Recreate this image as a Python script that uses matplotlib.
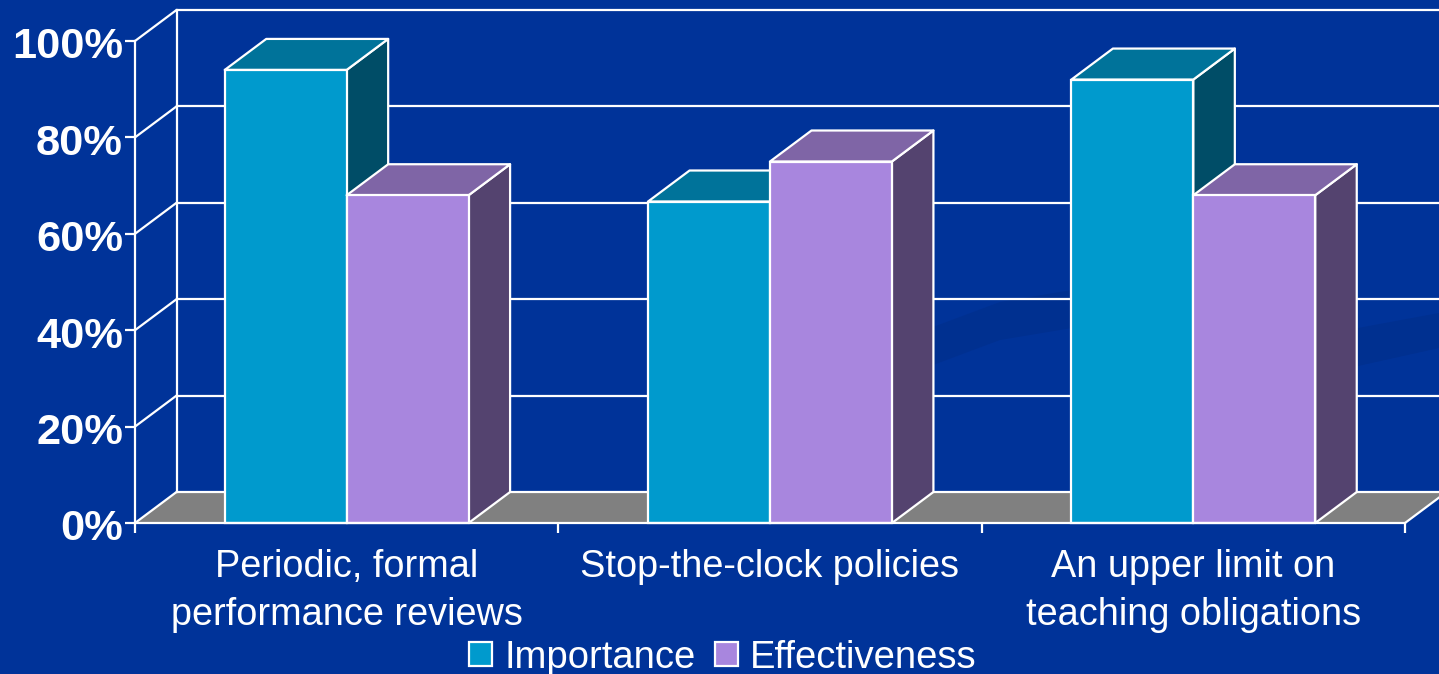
import matplotlib
matplotlib.use("Agg")
import matplotlib.pyplot as plt
from matplotlib.patches import Polygon, Patch
from matplotlib.transforms import ScaledTranslation

# ---- data ----
categories = ["Periodic, formal\nperformance reviews", "Stop-the-clock policies",
              "An upper limit on\nteaching obligations"]
importance = [94, 66.7, 92]
effectiveness = [68, 75, 68]
series_names = ["Importance", "Effectiveness"]
y_ticks = [0, 20, 40, 60, 80, 100]
y_labels = ["0%", "20%", "40%", "60%", "80%", "100%"]

# ---- style ----
W, H = 1439, 674
BG = "#003399"
FRONT = ["#009ACD", "#A886DE"]
TOP = ["#00739A", "#7F65A6"]
SIDE = ["#004D67", "#54436F"]
FLOOR = "#808080"
LW = 1.6
plt.rcParams["font.family"] = ["Liberation Sans", "DejaVu Sans"]

fig = plt.figure(figsize=(W / 100, H / 100), dpi=100, facecolor=BG)
L, R, B, T = 135, 1405, 523, 41
ax = fig.add_axes([L / W, 1 - B / H, (R - L) / W, (B - T) / H])
ax.set_xlim(0, 3)
ax.set_ylim(0, 100)
ax.patch.set_alpha(0)

# depth offset in data units
dx = 41.5 / (R - L) * 3
dy = 31 / (B - T) * 100
bw = 0.288


def fig_poly(pts, color):
    fig.patches.append(Polygon([(x / W, 1 - y / H) for x, y in pts], closed=True,
                               transform=fig.transFigure, facecolor=color,
                               edgecolor="none", zorder=-5))


# faint background swooshes
fig_poly([(925, 330), (1000, 302), (1072, 290), (1072, 328), (1000, 340), (925, 368)], "#003090")
fig_poly([(1300, 340), (1358, 328), (1439, 313), (1439, 348), (1358, 366), (1300, 382)], "#003090")

z = 1
# floor
ax.add_patch(Polygon([(0, 0), (3, 0), (3 + dx, dy), (dx, dy)], closed=True,
                     facecolor=FLOOR, edgecolor="none", clip_on=False, zorder=z))
# walls and grid
for v in y_ticks:
    ax.plot([dx, 3 + dx], [v + dy, v + dy], color="white", lw=LW, clip_on=False, zorder=z + 1)
    ax.plot([0, dx], [v, v + dy], color="white", lw=LW, clip_on=False, zorder=z + 1,
            solid_capstyle="round")
ax.plot([dx, dx], [dy, 100 + dy], color="white", lw=LW, clip_on=False, zorder=z + 1)
ax.plot([3, 3 + dx], [0, dy], color="white", lw=LW, clip_on=False, zorder=z + 1)

# bars
z = 3
for i in range(len(categories)):
    for j, vals in enumerate((importance, effectiveness)):
        v = vals[i]
        x0 = i + 0.5 - bw + j * bw
        x1 = x0 + bw
        kw = dict(closed=True, edgecolor="white", linewidth=LW, clip_on=False,
                  joinstyle="round")
        ax.add_patch(Polygon([(x1, 0), (x1 + dx, dy), (x1 + dx, v + dy), (x1, v)],
                             facecolor=SIDE[j], zorder=z, **kw))
        ax.add_patch(Polygon([(x0, v), (x1, v), (x1 + dx, v + dy), (x0 + dx, v + dy)],
                             facecolor=TOP[j], zorder=z, **kw))
        ax.bar(x0, v, width=bw, align="edge", facecolor=FRONT[j], edgecolor="white",
               linewidth=LW, clip_on=False, zorder=z)
        z += 1

# axes
for s in ("top", "right"):
    ax.spines[s].set_visible(False)
for s in ("left", "bottom"):
    ax.spines[s].set_color("white")
    ax.spines[s].set_linewidth(LW)
    ax.spines[s].set_zorder(50)

ax.set_yticks(y_ticks, y_labels, fontsize=31.2, fontweight="bold", color="white")
ax.tick_params(axis="y", length=7, width=LW, color="white", pad=1)
shift = ScaledTranslation(-1 / 100, -2 / 100, fig.dpi_scale_trans)
for lab in ax.get_yticklabels():
    lab.set_transform(lab.get_transform() + shift)
ax.set_xticks([0, 1, 2, 3], ["", "", "", ""])
ax.tick_params(axis="x", which="major", length=7, width=LW, color="white")
ax.set_xticks([0.5, 1.5, 2.5], categories, minor=True, fontsize=27.3, color="white",
              linespacing=1.4)
ax.tick_params(axis="x", which="minor", length=0, pad=19)

handles = [Patch(facecolor=FRONT[k], edgecolor="white", linewidth=LW) for k in range(2)]
ax.legend(handles, series_names, ncol=2, frameon=False, loc="lower center",
          bbox_to_anchor=(0.463, -0.317), fontsize=27.5, labelcolor="white",
          handlelength=0.6, handleheight=0.6, handletextpad=0.32, columnspacing=0.5,
          borderpad=0, borderaxespad=0)

fig.savefig("out.png", dpi=100, facecolor=BG)
